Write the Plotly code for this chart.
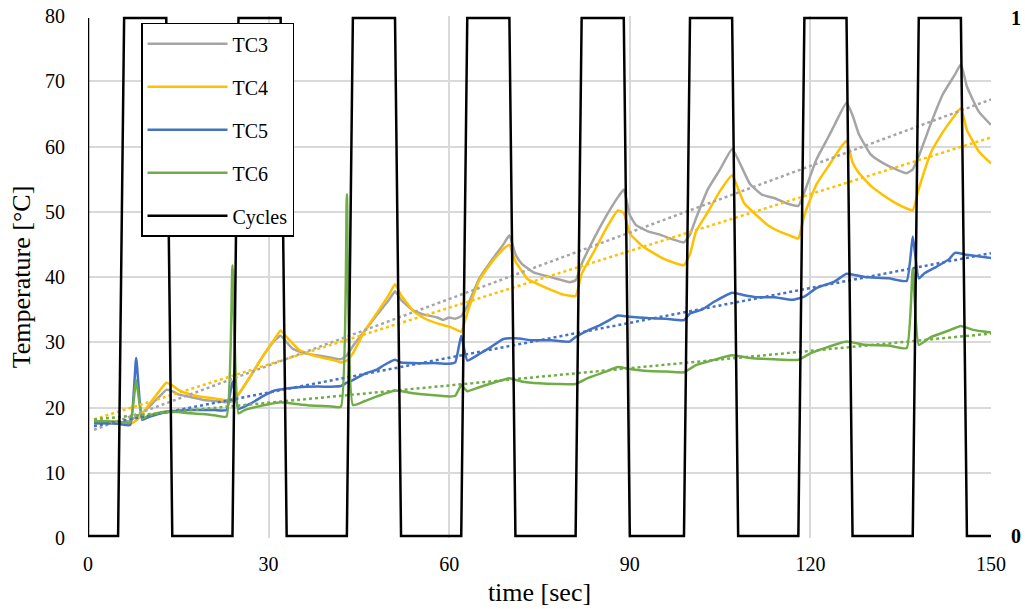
import numpy as np
import plotly.graph_objects as go

# Thermocouple readings (time in s, temperature in °C)
t_tc3 = [1, 3, 5, 7, 8, 9, 10, 11, 12, 13, 14, 15, 17, 19, 21, 23, 24, 25, 27, 29,
         31, 32, 33, 34, 36, 38, 40, 42, 43, 44, 46, 48, 50, 51, 52, 54, 56, 58, 59, 60,
         61, 62, 63, 65, 67, 69, 70, 71, 72, 74, 76, 78, 80, 81, 82, 84, 86, 88, 89, 90,
         91, 93, 95, 97, 99, 100, 101, 103, 105, 107, 108, 110, 112, 114, 116, 118, 119, 121, 123, 124,
         126, 127, 128, 130, 132, 134, 136, 137, 138, 140, 142, 144, 145, 146, 148, 150]
tc3 = [17.6, 17.6, 17.7, 18.0, 18.6, 19.2, 20.0, 20.9, 21.8, 22.7, 22.5, 22.0, 21.6, 21.2, 21.0, 20.8, 21.0, 22.0, 24.8, 27.8,
       30.3, 31.0, 30.0, 29.0, 28.3, 28.0, 27.7, 27.4, 28.0, 29.4, 31.8, 34.2, 36.5, 37.8, 36.5, 34.9, 34.2, 33.8, 33.4, 33.8,
       33.6, 34.0, 35.5, 39.8, 42.5, 45.0, 46.4, 43.5, 42.1, 40.7, 40.2, 39.7, 39.2, 39.5, 42.0, 45.8, 49.2, 52.2, 53.4, 49.5,
       48.0, 47.0, 46.5, 45.8, 45.3, 46.5, 49.0, 53.5, 56.5, 59.6, 58.0, 54.2, 52.6, 52.1, 51.3, 50.9, 53.0, 58.0, 61.5, 63.3,
       66.7, 64.8, 62.0, 58.8, 57.5, 56.6, 55.9, 56.5, 58.5, 63.5, 68.0, 71.0, 72.6, 69.2, 65.3, 63.3]

t_tc4 = [1, 3, 5, 6, 7, 8, 9, 10, 11, 12, 13, 14, 15, 17, 19, 21, 23, 24, 25, 27,
         29, 31, 32, 33, 34, 35, 37, 39, 41, 42, 43, 44, 46, 48, 50, 51, 52, 53, 54, 56,
         58, 60, 61, 62, 63, 65, 67, 69, 70, 71, 72, 73, 75, 77, 79, 81, 82, 84, 86, 88,
         89, 90, 92, 95, 97, 99, 100, 101, 103, 105, 107, 108, 109, 111, 113, 115, 117, 118, 119, 121,
         123, 125, 126, 127, 128, 130, 132, 134, 136, 137, 138, 140, 142, 144, 145, 146, 147, 148, 150]
tc4 = [17.9, 17.9, 17.8, 17.6, 17.5, 18.0, 19.0, 20.3, 21.5, 22.7, 23.8, 23.4, 22.7, 22.0, 21.6, 21.4, 21.1, 21.3, 22.1, 24.8,
       27.8, 30.5, 31.8, 30.8, 29.8, 28.9, 28.1, 27.6, 27.2, 26.9, 27.2, 28.3, 31.8, 34.5, 37.3, 38.9, 37.2, 36.0, 34.8, 33.6,
       32.9, 32.4, 32.0, 31.6, 34.5, 39.5, 42.2, 44.3, 44.9, 42.4, 41.0, 39.7, 38.8, 38.0, 37.3, 37.1, 40.5, 43.8, 47.3, 50.2,
       49.8, 46.7, 44.8, 43.1, 42.3, 41.8, 43.5, 47.0, 50.0, 53.2, 55.6, 53.5, 51.3, 49.5, 47.9, 46.9, 46.2, 45.9, 49.5, 54.2,
       57.0, 59.8, 60.9, 57.6, 56.0, 54.0, 52.6, 51.4, 50.5, 50.2, 53.5, 59.0, 62.2, 64.8, 65.9, 62.5, 60.8, 59.2, 57.4]

t_tc5 = [1, 3, 5, 7, 8, 9, 10, 11, 13, 15, 17, 19, 21, 23, 24, 25, 27, 29, 31, 33,
         35, 38, 41, 42, 43, 44, 46, 48, 49, 51, 52, 55, 58, 60, 61, 62, 63, 65, 67, 69,
         71, 74, 77, 80, 81, 83, 85, 87, 88, 90, 93, 96, 99, 100, 102, 104, 107, 109, 111, 114,
         117, 119, 121, 124, 126, 129, 133, 136, 137, 138, 139, 141, 143, 144, 146, 150]
tc5 = [17.6, 17.6, 17.5, 17.3, 27.6, 18.1, 18.5, 18.8, 19.3, 19.5, 19.6, 19.6, 19.6, 19.6, 24.0, 19.8, 20.6, 21.7, 22.6, 22.9,
       23.1, 23.2, 23.2, 23.3, 23.8, 24.2, 25.2, 25.8, 26.4, 27.3, 26.9, 26.8, 26.8, 26.7, 26.9, 31.0, 27.2, 28.2, 29.3, 30.5,
       30.6, 30.3, 30.3, 30.1, 30.8, 31.8, 32.6, 33.6, 34.1, 33.9, 33.7, 33.6, 33.4, 34.4, 35.0, 36.2, 37.6, 37.2, 36.9, 36.9,
       36.5, 37.0, 38.3, 39.3, 40.5, 40.0, 39.8, 39.4, 46.2, 39.8, 40.6, 41.6, 42.7, 43.7, 43.4, 42.9]

t_tc6 = [1, 3, 5, 7, 8, 9, 10, 11, 13, 15, 17, 19, 21, 23, 24, 25, 26, 28, 30, 32,
         34, 37, 40, 42, 43, 44, 46, 48, 51, 54, 57, 60, 61, 62, 63, 65, 67, 70, 72, 75,
         78, 81, 83, 86, 88, 90, 93, 96, 99, 101, 104, 107, 110, 114, 118, 120, 123, 126, 129, 133,
         136, 137, 138, 140, 143, 145, 147, 150]
tc6 = [17.9, 17.9, 17.8, 17.7, 24.2, 18.3, 18.7, 19.0, 19.4, 19.3, 19.1, 19.0, 18.8, 18.6, 41.8, 19.1, 19.6, 20.1, 20.5, 20.8,
       20.6, 20.3, 20.2, 20.1, 52.7, 20.4, 21.0, 21.7, 22.6, 22.2, 21.9, 21.7, 21.8, 23.4, 22.5, 23.1, 23.7, 24.5, 24.0, 23.7,
       23.6, 23.6, 24.5, 25.5, 26.2, 25.9, 25.6, 25.5, 25.4, 26.5, 27.3, 28.0, 27.6, 27.4, 27.3, 28.3, 29.3, 30.1, 29.6, 29.5,
       29.1, 41.3, 29.6, 30.8, 31.8, 32.5, 31.9, 31.5]

# Heating cycle state (0 = off, 1 = on)
t_cycles = [0, 0, 5, 6, 13, 14, 24, 25, 32, 33, 43, 44, 51, 52, 62, 63, 70, 71, 81, 82,
            89, 90, 99, 100, 107, 108, 118, 119, 126, 127, 137, 138, 145, 146, 150]
cycles = [1, 0, 0, 1, 1, 0, 0, 1, 1, 0, 0, 1, 1, 0, 0, 1, 1, 0, 0, 1,
          1, 0, 0, 1, 1, 0, 0, 1, 1, 0, 0, 1, 1, 0, 0]

x_ticks = [0, 30, 60, 90, 120, 150]

series = [
    ("TC3", t_tc3, tc3, "#A5A5A5"),
    ("TC4", t_tc4, tc4, "#FFC000"),
    ("TC5", t_tc5, tc5, "#4472C4"),
    ("TC6", t_tc6, tc6, "#70AD47"),
]

SERIF = "Liberation Serif"


def serif(size, bold=False):
    return dict(family=SERIF, size=size, color="black", weight="bold" if bold else "normal")


fig = go.Figure()

for name, tt, vals, color in series:
    fig.add_trace(go.Scatter(
        x=tt, y=vals, name=name, mode="lines", legendgroup=name,
        line=dict(color=color, width=2.5, shape="spline", smoothing=0.4),
    ))

# Linear trendlines, least squares over a 1 s grid
for name, tt, vals, color in series:
    grid = np.arange(1, 151)
    slope, icpt = np.polyfit(grid, np.interp(grid, tt, vals), 1)
    xs = np.array([1, 150])
    fig.add_trace(go.Scatter(
        x=xs, y=slope * xs + icpt, mode="lines", showlegend=False, hoverinfo="skip",
        line=dict(color=color, width=2.5, dash="dot"),
    ))

fig.add_trace(go.Scatter(
    x=t_cycles, y=cycles, name="Cycles", mode="lines", legendgroup="Cycles",
    yaxis="y2", line=dict(color="black", width=2.5),
))

grid_col = "#D9D9D9"
fig.update_layout(
    width=1025, height=609,
    margin=dict(l=88, r=34, t=16, b=71, autoexpand=False),
    paper_bgcolor="white", plot_bgcolor="white",
    font=serif(20),
    xaxis=dict(
        range=[0, 150], tickvals=x_ticks, showgrid=True, gridcolor=grid_col, gridwidth=1.5,
        zeroline=False, showline=False, ticks="", tickfont=serif(20), ticklabelstandoff=12,
        automargin=False,
        title=dict(text="time [sec]", font=serif(26), standoff=8),
    ),
    yaxis=dict(
        range=[0, 80], dtick=10, showgrid=True, gridcolor=grid_col, gridwidth=1.5,
        zeroline=False, showline=False, ticks="", tickfont=serif(20), ticklabelstandoff=22,
        automargin=False,
        title=dict(text="Temperature [°C]", font=serif(26), standoff=6),
    ),
    yaxis2=dict(
        overlaying="y", side="right", range=[-0.004, 1.004], tickvals=[0, 1],
        ticktext=["0", "1"], showgrid=False, zeroline=False, showline=False,
        ticks="", tickfont=serif(20, bold=True), ticklabelstandoff=19, automargin=False,
    ),
    legend=dict(
        x=0.0587, y=0.987, xanchor="left", yanchor="top",
        bgcolor="white", bordercolor="black", borderwidth=1.5,
        font=serif(20), tracegroupgap=14, itemwidth=80,
        entrywidth=80, entrywidthmode="pixels",
    ),
    showlegend=True,
)

fig.write_html("out.html")
